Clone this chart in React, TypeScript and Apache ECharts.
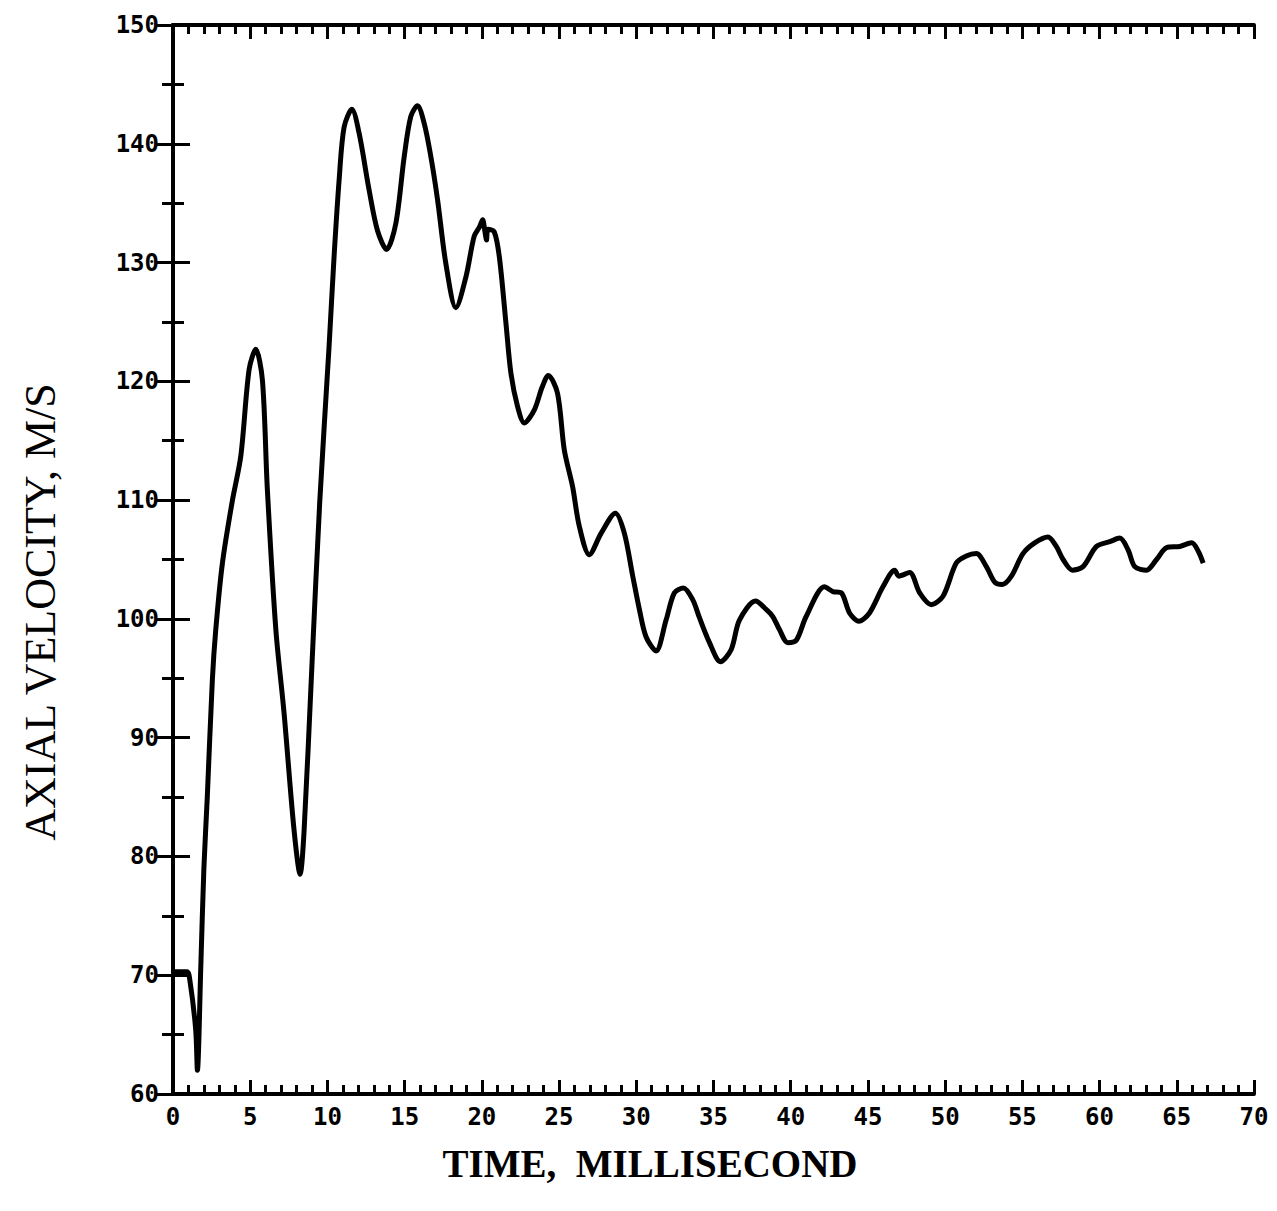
import React, { useEffect, useRef } from "react";
import * as echarts from "echarts";

const timeMs: number[] = [
  0, 0.9, 1.1, 1.47, 1.58, 1.8, 2.0, 2.22, 2.55, 2.77, 3.2, 3.85, 4.39, 4.93, 5.36, 5.79, 6.11, 6.66, 7.19, 7.84,
  8.23, 8.49, 9.0, 9.5, 10.1, 10.43, 10.76, 11.08, 11.58, 12.05, 12.7, 13.24, 13.83, 14.43, 14.97, 15.4, 15.83,
  16.27, 16.7, 17.13, 17.67, 18.32, 18.97, 19.5, 19.85, 20.05, 20.2, 20.3, 20.4, 20.8, 21.13, 21.56, 21.88, 22.31,
  22.75, 23.4, 23.9, 24.3, 24.9, 25.34, 25.88, 26.31, 26.96, 27.72, 28.65, 29.23, 29.77, 30.2, 30.63, 31.28, 31.93,
  32.47, 33.05, 33.66, 34.09, 34.74, 35.45, 36.14, 36.68, 37.72, 38.41, 38.84, 39.27, 39.81, 40.36, 41.0, 42.19,
  42.73, 43.27, 43.81, 44.41, 45.1, 45.97, 46.73, 47.0, 47.7, 48.35, 49.1, 49.86, 50.72, 51.37, 52.02, 52.67, 53.21,
  53.7, 54.29, 55.04, 55.8, 56.66, 57.2, 57.64, 58.24, 58.93, 59.8, 60.66, 61.31, 61.85, 62.28, 63.04, 63.69, 64.34,
  65.2, 65.96, 66.39, 66.71,
];

const axialVelocity: number[] = [
  70.3, 70.3, 69.5, 65.4, 62.0, 70.7, 79.0, 85.0, 94.9, 99.1, 104.7, 110.0, 113.7, 121.0, 122.7, 120.1, 110.9, 99.1,
  92.1, 82.2, 78.5, 82.2, 96.2, 109.8, 122.8, 130.5, 137.0, 141.4, 142.9, 140.9, 136.1, 132.7, 131.1, 133.3,
  138.9, 142.3, 143.2, 141.7, 138.9, 135.3, 129.9, 126.2, 128.8, 132.2, 133.0, 133.6, 132.6, 131.9, 132.8, 132.6,
  130.5, 124.9, 120.7, 117.9, 116.5, 117.6, 119.5, 120.5, 119.0, 114.2, 111.1, 107.8, 105.4, 107.2, 108.9, 107.2,
  103.6, 100.8, 98.5, 97.3, 99.9, 102.2, 102.6, 101.6, 100.1, 98.0, 96.4, 97.4, 99.9, 101.5, 100.8, 100.2, 99.1,
  98.0, 98.2, 100.2, 102.7, 102.3, 102.2, 100.5, 99.8, 100.5, 102.7, 104.1, 103.6, 103.9, 102.2, 101.2, 101.9,
  104.7, 105.3, 105.5, 104.4, 103.1, 102.9, 103.6, 105.5, 106.4, 106.9, 106.1, 105.0, 104.1, 104.4, 106.1, 106.5,
  106.8, 105.8, 104.4, 104.1, 105.0, 106.0, 106.1, 106.4, 105.7, 104.7,
];

const xRange: number[] = [0, 70];
const yRange: number[] = [60, 150];
const xTitle = "TIME,  MILLISECOND";
const yTitle = "AXIAL VELOCITY, M/S";

export default function App() {
  const ref = useRef<HTMLDivElement>(null);

  useEffect(() => {
    if (!ref.current) return;
    const chart = echarts.init(ref.current, null, { renderer: "svg" });
    const black = "#000";
    const labelFont = {
      fontFamily: "DejaVu Sans Mono",
      fontWeight: "bold" as const,
      fontSize: 24,
      color: black,
    };
    const xBase = (pos: "bottom" | "top", showLabel: boolean) => ({
      type: "value" as const,
      position: pos,
      min: xRange[0],
      max: xRange[1],
      interval: 5,
      axisLine: { show: true, lineStyle: { color: black, width: 4 } },
      axisTick: { show: true, inside: true, length: 14, lineStyle: { color: black, width: 3 } },
      minorTick: { show: true, splitNumber: 5, length: 9, lineStyle: { color: black, width: 3 } },
      splitLine: { show: false },
      minorSplitLine: { show: false },
      axisLabel: { show: showLabel, margin: 11, ...labelFont },
    });
    const yBase = (pos: "left" | "right", showLabel: boolean) => ({
      type: "value" as const,
      position: pos,
      min: yRange[0],
      max: yRange[1],
      interval: 10,
      axisLine: { show: true, lineStyle: { color: black, width: 4 } },
      axisTick: { show: true, inside: true, length: 17, lineStyle: { color: black, width: 3 } },
      minorTick: { show: true, splitNumber: 2, length: 11, lineStyle: { color: black, width: 3 } },
      splitLine: { show: false },
      minorSplitLine: { show: false },
      axisLabel: { show: showLabel, margin: 14, ...labelFont },
    });

    chart.setOption({
      animation: false,
      backgroundColor: "#fff",
      grid: { left: 173, top: 25, width: 1081, height: 1069, containLabel: false },
      xAxis: [xBase("bottom", true), xBase("top", false)],
      yAxis: [yBase("left", true), yBase("right", false)],
      series: [
        {
          type: "line",
          xAxisIndex: 0,
          yAxisIndex: 0,
          data: timeMs.map((t, i) => [t, axialVelocity[i]]),
          showSymbol: false,
          smooth: 0.3,
          lineStyle: { color: black, width: 5 },
        },
      ],
      graphic: [
        {
          type: "text",
          x: 650,
          y: 1163,
          style: {
            text: xTitle,
            fontFamily: "Liberation Serif",
            fontWeight: "bold",
            fontSize: 39,
            fill: black,
            align: "center",
            verticalAlign: "middle",
          },
        },
        {
          type: "text",
          x: 40,
          y: 612,
          rotation: Math.PI / 2,
          style: {
            text: yTitle,
            fontFamily: "Liberation Serif",
            fontSize: 44,
            fill: black,
            align: "center",
            verticalAlign: "middle",
          },
        },
      ],
    });
    return () => chart.dispose();
  }, []);

  return (
    <div
      ref={ref}
      style={{ position: "absolute", left: 0, top: 0, width: 1277, height: 1211, background: "#fff" }}
    />
  );
}
